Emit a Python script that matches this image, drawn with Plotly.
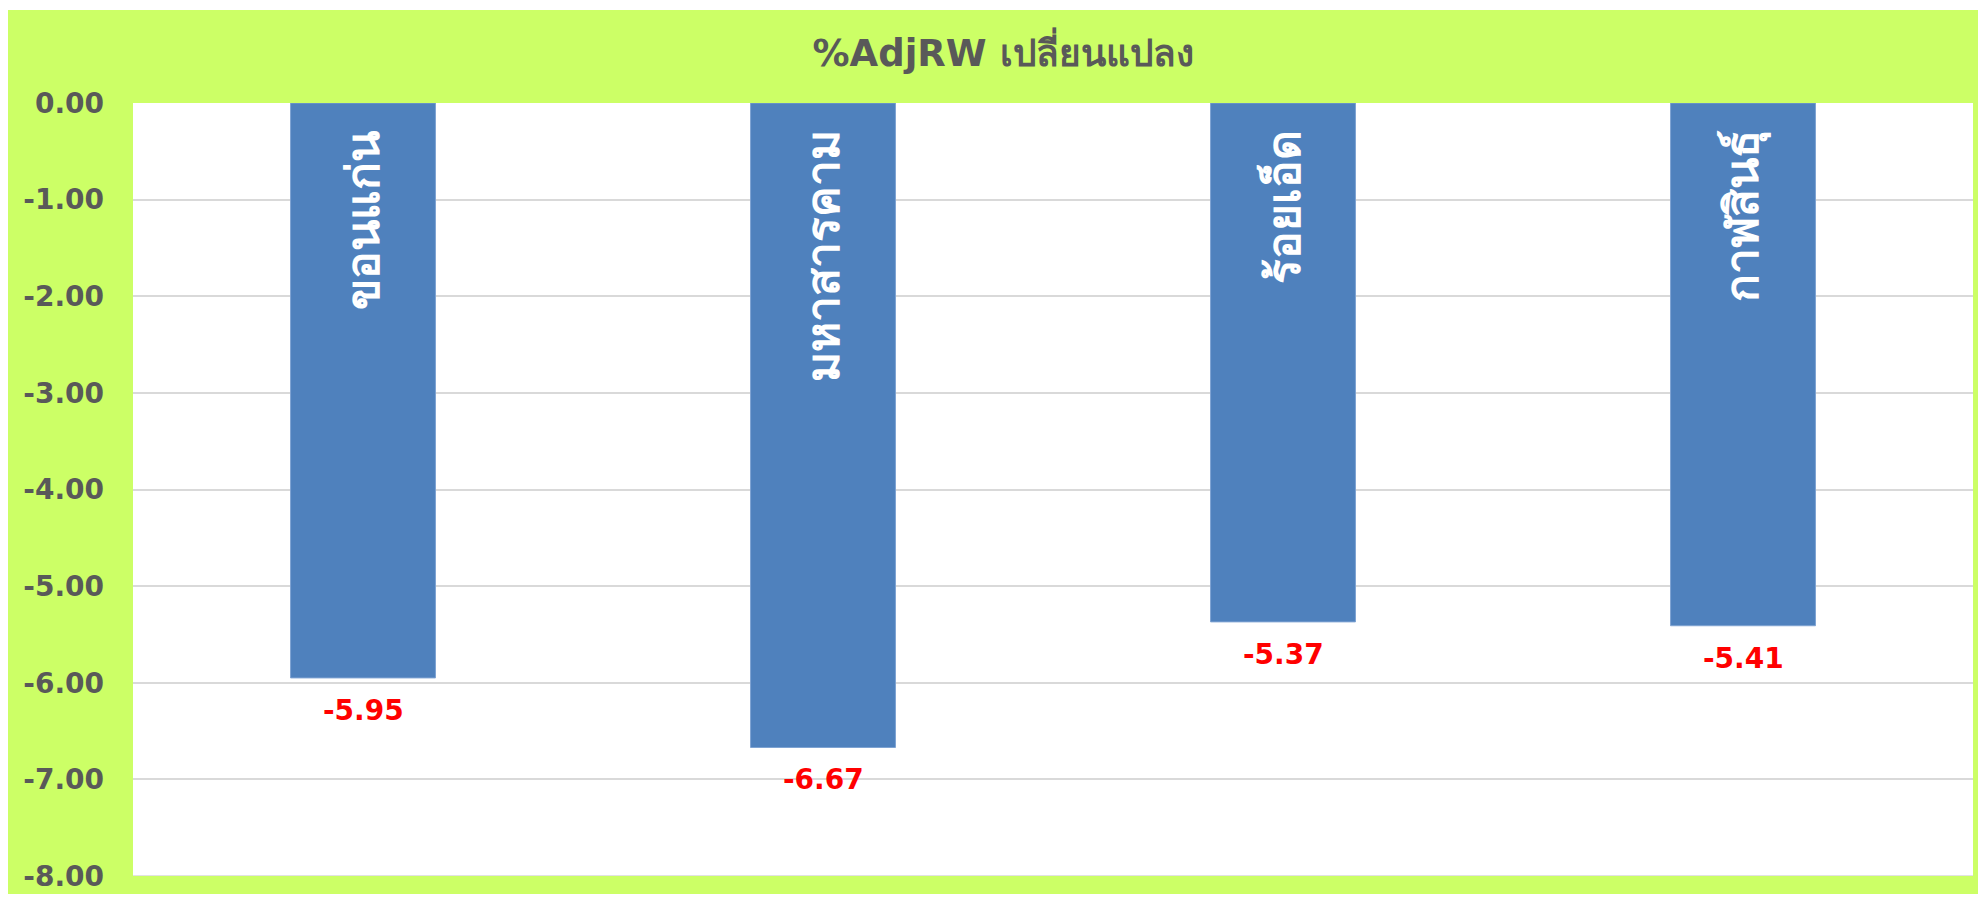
import plotly.graph_objects as go

categories = ["ขอนแก่น", "มหาสารคาม", "ร้อยเอ็ด", "กาฬสินธุ์"]
values = [-5.95, -6.67, -5.37, -5.41]
tick_vals = [0, -1, -2, -3, -4, -5, -6, -7, -8]
tick_text = ["0.00", "-1.00", "-2.00", "-3.00", "-4.00", "-5.00", "-6.00", "-7.00", "-8.00"]
title_text = "%AdjRW เปลี่ยนแปลง"

GREEN = "#CCFF66"
GRAY = "#595959"
FONT = "DejaVu Sans, Tahoma, Noto Sans, sans-serif"

# the page keeps its 8px body margin, so the figure fills the rest of the window
W, H = 1978, 886
L, R, T, B = 125, 13, 95, 18
pw, ph = W - L - R, H - T - B

fig = go.Figure()
fig.add_trace(go.Bar(
    x=categories, y=values,
    marker=dict(color="#4F81BD", line=dict(color="#7EA2D2", width=1)),
    width=0.315,
    hoverinfo="x+y",
))

annotations = []
for c, v in zip(categories, values):
    annotations.append(dict(
        x=c, y=v, xref="x", yref="y", text=f"{v:.2f}", showarrow=False,
        yanchor="top", xanchor="center", yshift=-14,
        font=dict(family=FONT, size=28, color="#FF0000", weight="bold"),
    ))
    annotations.append(dict(
        x=c, y=0, xref="x", yref="y", text=c, showarrow=False,
        textangle=-90, yanchor="top", xanchor="center", yshift=-25,
        font=dict(family=FONT, size=46, color="#FFFFFF", weight="bold"),
    ))

fig.update_layout(
    width=W, height=H,
    margin=dict(l=L, r=R, t=T, b=B, pad=0),
    paper_bgcolor=GREEN,
    plot_bgcolor="#FFFFFF",
    showlegend=False,
    title=dict(text=title_text, x=995 / W, xanchor="center", y=1 - 45 / H,
               yanchor="middle", xref="container", yref="container",
               font=dict(family=FONT, size=37, color=GRAY, weight="bold")),
    xaxis=dict(showticklabels=False, showgrid=False, zeroline=False,
               showline=False, ticks=""),
    yaxis=dict(range=[-8, 0], tickvals=tick_vals, ticktext=tick_text,
               showgrid=True, gridcolor="#D9D9D9", gridwidth=1.5,
               zeroline=False, showline=False, ticks="",
               ticklabelstandoff=28, ticklabeloverflow="allow",
               automargin=False,
               tickfont=dict(family=FONT, size=28, color=GRAY, weight="bold")),
    annotations=annotations,
    shapes=[
        dict(type="rect", xref="paper", yref="paper", layer="above",
             x0=-L / pw - 0.01, x1=1 + R / pw + 0.01,
             y0=(H - B - 2) / ph, y1=(H - B) / ph + 0.01,
             fillcolor="#FFFFFF", line=dict(width=0)),
        dict(type="line", xref="paper", yref="y", layer="below",
             x0=0, x1=1, y0=-8, y1=-8, line=dict(color="#D9D9D9", width=1.5)),
    ],
)

fig.write_html("out.html")
